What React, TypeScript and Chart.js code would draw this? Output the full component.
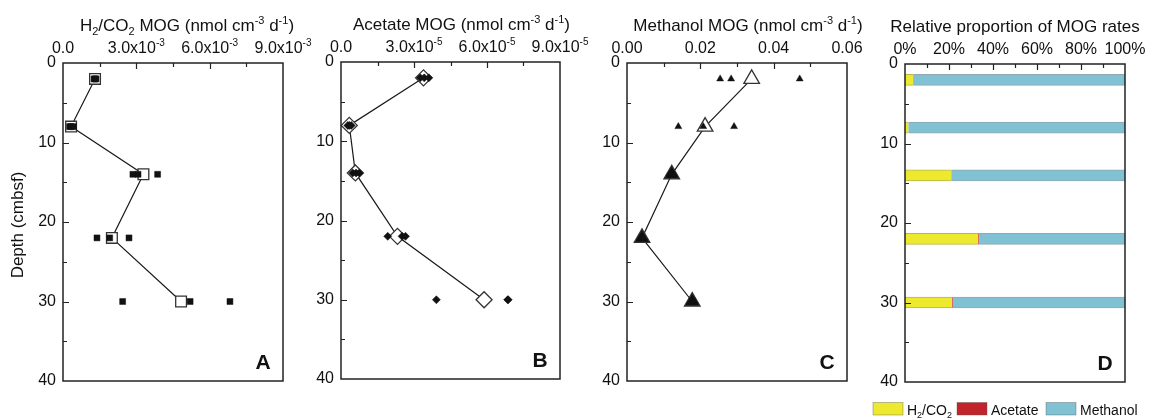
import React, { useEffect, useRef } from 'react';
import { Chart, registerables } from 'chart.js';

Chart.register(...registerables);

const FONT = '"Liberation Sans", Arial, Helvetica, sans-serif';
const INK = '#111';

// Sampling depths (cmbsf) shared by every panel
const depths = [2, 8, 14, 22, 30];

// H2/CO2 methanogenesis (nmol cm-3 d-1): triplicate incubations and their means
const h2Reps = [
  [1.27e-3, 1.31e-3, 1.35e-3],
  [0.27e-3, 0.33e-3, 0.43e-3],
  [2.86e-3, 3.07e-3, 3.87e-3],
  [1.39e-3, 1.91e-3, 2.7e-3],
  [2.44e-3, 5.2e-3, 6.83e-3],
];
const h2Mean = [1.31e-3, 0.33e-3, 3.29e-3, 2.0e-3, 4.83e-3];

// Acetate methanogenesis
const acetateReps = [
  [3.26e-5, 3.42e-5, 3.61e-5],
  [0.28e-5, 0.34e-5, 0.42e-5],
  [0.48e-5, 0.62e-5, 0.75e-5],
  [1.92e-5, 2.51e-5, 2.65e-5],
  [3.92e-5, 6.85e-5, 6.87e-5],
];
const acetateMean = [3.39e-5, 0.34e-5, 0.59e-5, 2.32e-5, 5.88e-5];

// Methanol methanogenesis
const methanolReps = [
  [0.0254, 0.0284, 0.0471],
  [0.014, 0.0208, 0.0292],
  [0.0116, 0.0122, 0.0128],
  [0.0036, 0.0041, 0.0046],
  [0.0172, 0.0178, 0.0184],
];
const methanolMean = [0.034, 0.0213, 0.0122, 0.0041, 0.0178];

// Relative proportion of the three pathways (%)
const h2Pct = [3.6, 1.5, 21.0, 33.3, 21.4];
const acetatePct = [0.12, 0.03, 0.05, 0.4, 0.3];
const methanolPct = [96.28, 98.47, 78.95, 66.3, 78.3];

// Axis ticks and labels
const depthMin = 0;
const depthMax = 40;
const h2AxisTicks = [0, 3e-3, 6e-3, 9e-3];
const h2AxisLabels = ['0.0', '3.0x10^{-3}', '6.0x10^{-3}', '9.0x10^{-3}'];
const acetateAxisTicks = [0, 3e-5, 6e-5, 9e-5];
const acetateAxisLabels = ['0.0', '3.0x10^{-5}', '6.0x10^{-5}', '9.0x10^{-5}'];
const methanolAxisTicks = [0, 0.02, 0.04, 0.06];
const methanolAxisLabels = ['0.00', '0.02', '0.04', '0.06'];
const pctAxisTicks = [0, 20, 40, 60, 80, 100];
const pctAxisLabels = ['0%', '20%', '40%', '60%', '80%', '100%'];

const YELLOW = '#ece92e';
const RED = '#c1252b';
const BLUE = '#80c1d4';

type Seg = { text: string; mode: 'n' | 'sub' | 'sup' };

function parseRich(s: string): Seg[] {
  const out: Seg[] = [];
  const re = /([_^])\{([^}]*)\}/g;
  let last = 0;
  let m: RegExpExecArray | null;
  while ((m = re.exec(s))) {
    if (m.index > last) out.push({ text: s.slice(last, m.index), mode: 'n' });
    out.push({ text: m[2], mode: m[1] === '_' ? 'sub' : 'sup' });
    last = re.lastIndex;
  }
  if (last < s.length) out.push({ text: s.slice(last), mode: 'n' });
  return out;
}

function drawRich(
  ctx: CanvasRenderingContext2D,
  s: string,
  x: number,
  y: number,
  size: number,
  align: 'left' | 'center' | 'right',
  weight = 'normal'
) {
  const segs = parseRich(s);
  const small = Math.round(size * 0.64);
  const fontOf = (seg: Seg) => `${weight} ${seg.mode === 'n' ? size : small}px ${FONT}`;
  let total = 0;
  const widths = segs.map((seg) => {
    ctx.font = fontOf(seg);
    const w = ctx.measureText(seg.text).width;
    total += w;
    return w;
  });
  let cx = align === 'center' ? x - total / 2 : align === 'right' ? x - total : x;
  ctx.textAlign = 'left';
  ctx.textBaseline = 'alphabetic';
  ctx.fillStyle = INK;
  segs.forEach((seg, i) => {
    ctx.font = fontOf(seg);
    const dy = seg.mode === 'sup' ? -size * 0.42 : seg.mode === 'sub' ? size * 0.24 : 0;
    ctx.fillText(seg.text, cx, y + dy);
    cx += widths[i];
  });
}

type Area = { l: number; t: number; r: number; b: number };

type PanelSpec = {
  letter: string;
  canvasLeft: number;
  canvasWidth: number;
  area: Area;
  title: string;
  titleDx: number;
  xMax: number;
  xStep: number;
  axisTicks: number[];
  axisLabels: string[];
  yTitle?: string;
  legend?: boolean;
  build: () => { type: 'scatter' | 'bar'; datasets: any[]; indexAxis?: 'x' | 'y' };
};

function scatterSets(
  reps: number[][],
  means: number[],
  style: string,
  smallR: number,
  bigR: number,
  meanFill: string | string[]
) {
  const repPoints: { x: number; y: number }[] = [];
  reps.forEach((row, i) => row.forEach((v) => repPoints.push({ x: v, y: depths[i] })));
  return [
    {
      label: 'Replicates',
      data: repPoints,
      pointStyle: style,
      pointRadius: smallR,
      pointBackgroundColor: INK,
      pointBorderColor: INK,
      pointBorderWidth: 0.5,
      showLine: false,
      clip: false,
    },
    {
      label: 'Mean',
      data: means.map((v, i) => ({ x: v, y: depths[i] })),
      showLine: true,
      borderColor: '#1a1a1a',
      borderWidth: 1.2,
      pointStyle: style,
      pointRadius: bigR,
      pointBackgroundColor: meanFill,
      pointBorderColor: '#333',
      pointBorderWidth: 1.3,
      clip: false,
    },
  ];
}

const panels: PanelSpec[] = [
  {
    letter: 'A',
    canvasLeft: 0,
    canvasWidth: 330,
    area: { l: 63, t: 63, r: 283, b: 381 },
    title: 'H_{2}/CO_{2} MOG (nmol cm^{-3} d^{-1})',
    titleDx: 14,
    xMax: 9e-3,
    xStep: 1.5e-3,
    axisTicks: h2AxisTicks,
    axisLabels: h2AxisLabels,
    yTitle: 'Depth (cmbsf)',
    build: () => ({ type: 'scatter', datasets: scatterSets(h2Reps, h2Mean, 'rect', 4.2, 7.6, '#fff') }),
  },
  {
    letter: 'B',
    canvasLeft: 300,
    canvasWidth: 300,
    area: { l: 341, t: 62, r: 560, b: 379 },
    title: 'Acetate MOG (nmol cm^{-3} d^{-1})',
    titleDx: 11,
    xMax: 9e-5,
    xStep: 1.5e-5,
    axisTicks: acetateAxisTicks,
    axisLabels: acetateAxisLabels,
    build: () => ({ type: 'scatter', datasets: scatterSets(acetateReps, acetateMean, 'rectRot', 4, 8, '#fff') }),
  },
  {
    letter: 'C',
    canvasLeft: 585,
    canvasWidth: 300,
    area: { l: 627, t: 63, r: 847, b: 381 },
    title: 'Methanol MOG (nmol cm^{-3} d^{-1})',
    titleDx: 11,
    xMax: 0.06,
    xStep: 0.01,
    axisTicks: methanolAxisTicks,
    axisLabels: methanolAxisLabels,
    build: () => ({
      type: 'scatter',
      datasets: scatterSets(methanolReps, methanolMean, 'triangle', 4, 9, ['#fff', '#fff', '#111', '#111', '#111']),
    }),
  },
  {
    letter: 'D',
    canvasLeft: 865,
    canvasWidth: 284,
    area: { l: 905, t: 64, r: 1125, b: 382 },
    title: 'Relative proportion of MOG rates',
    titleDx: 0,
    xMax: 100,
    xStep: 10,
    axisTicks: pctAxisTicks,
    axisLabels: pctAxisLabels,
    legend: true,
    build: () => {
      const bar = (label: string, vals: number[], color: string, edge: string) => ({
        label,
        data: vals.map((v, i) => ({ x: v, y: depths[i] })),
        backgroundColor: color,
        borderColor: edge,
        borderWidth: { top: 1, bottom: 1, left: 0, right: 0 },
        borderSkipped: false,
        barThickness: 11,
        clip: false,
      });
      return {
        type: 'bar',
        indexAxis: 'y',
        datasets: [
          bar('H_{2}/CO_{2}', h2Pct, YELLOW, '#b9b64a'),
          bar('Acetate', acetatePct, RED, RED),
          bar('Methanol', methanolPct, BLUE, '#8fa9b1'),
        ],
      };
    },
  },
];

const CANVAS_H = 418;

function makeChart(canvas: HTMLCanvasElement, spec: PanelSpec) {
  const a = {
    l: spec.area.l - spec.canvasLeft,
    r: spec.area.r - spec.canvasLeft,
    t: spec.area.t,
    b: spec.area.b,
  };
  const built = spec.build();
  const isBar = built.type === 'bar';

  const decor = {
    id: 'panelDecor' + spec.letter,
    afterDraw(chart: any) {
      const ctx: CanvasRenderingContext2D = chart.ctx;
      const ca = chart.chartArea;
      const xs = chart.scales.x;
      const ys = chart.scales.y;
      ctx.save();

      // frame
      ctx.strokeStyle = '#222';
      ctx.lineWidth = 1.5;
      ctx.strokeRect(ca.left, ca.top, ca.right - ca.left, ca.bottom - ca.top);

      // inward tick marks on the top axis
      ctx.lineWidth = 1.2;
      ctx.beginPath();
      xs.ticks.forEach((tk: any, i: number) => {
        if (i === 0 || i === xs.ticks.length - 1) return;
        const px = Math.round(xs.getPixelForValue(tk.value)) + 0.5;
        const len = i % 2 === 0 ? 6 : 4;
        ctx.moveTo(px, ca.top);
        ctx.lineTo(px, ca.top + len);
      });
      // inward tick marks on the depth axis
      ys.ticks.forEach((tk: any, i: number) => {
        if (i === 0 || i === ys.ticks.length - 1) return;
        const py = Math.round(ys.getPixelForValue(tk.value)) + 0.5;
        const len = tk.value % 10 === 0 ? 6 : 4;
        ctx.moveTo(ca.left, py);
        ctx.lineTo(ca.left + len, py);
      });
      ctx.stroke();

      // top-axis labels
      spec.axisTicks.forEach((v, i) => {
        drawRich(ctx, spec.axisLabels[i], xs.getPixelForValue(v), ca.top - 10, 16, 'center');
      });

      // axis title
      drawRich(ctx, spec.title, (ca.left + ca.right) / 2 + spec.titleDx, ca.top - 32, 17, 'center');

      // panel letter
      ctx.font = `bold 21px ${FONT}`;
      ctx.fillStyle = INK;
      ctx.textAlign = 'center';
      ctx.textBaseline = 'alphabetic';
      ctx.fillText(spec.letter, ca.right - 20, ca.bottom - 12);

      // depth axis title
      if (spec.yTitle) {
        ctx.save();
        ctx.translate(18, (ca.top + ca.bottom) / 2 + 3);
        ctx.rotate(-Math.PI / 2);
        ctx.font = `17px ${FONT}`;
        ctx.textAlign = 'center';
        ctx.textBaseline = 'middle';
        ctx.fillStyle = INK;
        ctx.fillText(spec.yTitle, 0, 0);
        ctx.restore();
      }

      // legend for the proportion bars
      if (spec.legend) {
        const boxes = [8, 92, 181];
        chart.data.datasets.forEach((ds: any, i: number) => {
          const bx = boxes[i];
          ctx.fillStyle = ds.backgroundColor;
          ctx.fillRect(bx, 402.5, 30, 12.5);
          ctx.strokeStyle = 'rgba(80,80,80,0.45)';
          ctx.lineWidth = 0.8;
          ctx.strokeRect(bx, 402.5, 30, 12.5);
          drawRich(ctx, ds.label, bx + 34, 414.5, 14, 'left');
        });
      }
      ctx.restore();
    },
  };

  return new Chart(canvas, {
    type: built.type as any,
    data: { datasets: built.datasets },
    plugins: [decor],
    options: {
      animation: false,
      responsive: false,
      indexAxis: (built.indexAxis || 'x') as any,
      layout: {
        padding: { left: 0, top: 0, right: spec.canvasWidth - a.r, bottom: CANVAS_H - a.b },
      },
      plugins: { legend: { display: false }, tooltip: { enabled: false }, title: { display: false } },
      scales: {
        x: {
          type: 'linear',
          position: 'top',
          min: 0,
          max: spec.xMax,
          offset: false,
          stacked: isBar,
          ticks: { stepSize: spec.xStep, display: false, maxTicksLimit: 20 },
          grid: { display: false, drawTicks: false, offset: false },
          border: { display: false },
          afterFit: (s: any) => {
            s.height = a.t;
          },
        },
        y: {
          type: 'linear',
          position: 'left',
          reverse: true,
          min: depthMin,
          max: depthMax,
          offset: false,
          stacked: isBar,
          ticks: {
            stepSize: 5,
            autoSkip: false,
            padding: 7,
            color: INK,
            font: { family: FONT, size: 16 },
            callback: (v: any) => (Number(v) % 10 === 0 ? String(v) : ''),
          },
          grid: { display: false, drawTicks: false, offset: false },
          border: { display: false },
          afterFit: (s: any) => {
            s.width = a.l;
          },
        },
      },
    } as any,
  });
}

export default function App() {
  const refs = useRef<(HTMLCanvasElement | null)[]>([]);

  useEffect(() => {
    const charts = panels.map((p, i) => makeChart(refs.current[i] as HTMLCanvasElement, p));
    return () => charts.forEach((c) => c.destroy());
  }, []);

  return (
    <div style={{ position: 'absolute', left: 0, top: 0, width: 1149, height: CANVAS_H, background: '#fff' }}>
      {panels.map((p, i) => (
        <canvas
          key={p.letter}
          ref={(el) => {
            refs.current[i] = el;
          }}
          width={p.canvasWidth}
          height={CANVAS_H}
          style={{ position: 'absolute', left: p.canvasLeft, top: 0, width: p.canvasWidth, height: CANVAS_H }}
        />
      ))}
    </div>
  );
}
